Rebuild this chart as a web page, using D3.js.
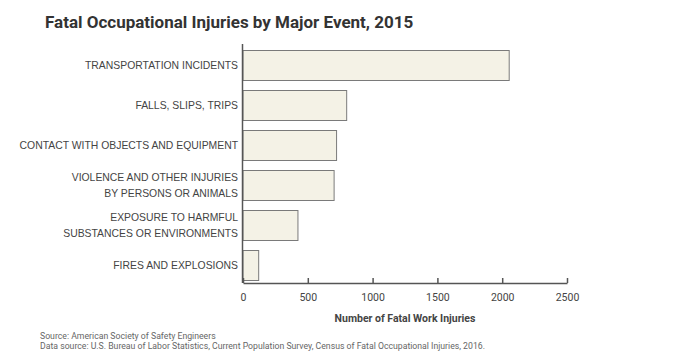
<!DOCTYPE html>
<html>
<head>
<meta charset='utf-8'>
<title>Fatal Occupational Injuries</title>
<script src='https://d3js.org/d3.v7.min.js'></script>
<style>
  body { margin: 0; background: #fff; }
  text { font-family: Roboto, 'Noto Sans', sans-serif; }
</style>
</head>
<body>
<div id='chart'></div>
<script>
// categories (each label split into lines) and values
const categories = [
    ['TRANSPORTATION INCIDENTS'],
    ['FALLS, SLIPS, TRIPS'],
    ['CONTACT WITH OBJECTS AND EQUIPMENT'],
    ['VIOLENCE AND OTHER INJURIES', 'BY PERSONS OR ANIMALS'],
    ['EXPOSURE TO HARMFUL', 'SUBSTANCES OR ENVIRONMENTS'],
    ['FIRES AND EXPLOSIONS']
];
const values = [2054, 800, 722, 703, 424, 121];
const xTicks = [0, 500, 1000, 1500, 2000, 2500];

const W = 700, H = 360;
const svg = d3.select('#chart').append('svg')
    .attr('width', W).attr('height', H);

const x = d3.scaleLinear().domain([0, 2500]).range([243, 567]);
const y = d3.scaleBand().domain(d3.range(categories.length))
    .range([45, 285]).paddingInner(0.25).paddingOuter(0.125);

// title
svg.append('text')
    .attr('x', 45).attr('y', 28)
    .attr('font-size', '17px').attr('font-weight', 'bold')
    .attr('fill', '#333')
    .text('Fatal Occupational Injuries by Major Event, 2015');

// bars
svg.selectAll('rect.bar')
    .data(values)
    .enter()
    .append('rect')
    .attr('class', 'bar')
    .attr('x', x(0))
    .attr('y', (d, i) => y(i) + 0.5)
    .attr('width', d => x(d) - x(0))
    .attr('height', y.bandwidth())
    .attr('fill', '#f4f2e6')
    .attr('stroke', '#7a7a7a')
    .attr('stroke-width', 1);

// category labels
const lab = svg.selectAll('text.cat')
    .data(categories)
    .enter()
    .append('text')
    .attr('class', 'cat')
    .attr('text-anchor', 'end')
    .style('font-family', "'Liberation Sans', Arial, sans-serif")
    .attr('font-size', '10.4px')
    .attr('fill', '#444')
    .attr('y', (d, i) => y(i) + y.bandwidth() / 2);

lab.selectAll('tspan')
    .data(d => d.map((t, j) => ({t: t, j: j, n: d.length})))
    .enter()
    .append('tspan')
    .attr('x', 238)
    .attr('dy', d => d.j === 0 ? (d.n === 1 ? 3.5 : -4) : 16)
    .text(d => d.t);

// y axis line
svg.append('line')
    .attr('x1', x(0) - 0.5).attr('x2', x(0) - 0.5)
    .attr('y1', 44).attr('y2', 283)
    .attr('stroke', '#555').attr('stroke-width', 1.5);

// x axis
const xAxis = d3.axisBottom(x).tickValues(xTicks).tickFormat(d3.format('d'))
    .tickSizeInner(-5).tickSizeOuter(0).tickPadding(11);
const gx = svg.append('g')
    .attr('transform', 'translate(0,283)')
    .call(xAxis);
gx.select('.domain').attr('stroke', '#555').attr('stroke-width', 1.5);
gx.selectAll('.tick line').attr('stroke', '#555').attr('stroke-width', 1.5);
gx.selectAll('.tick text')
    .attr('font-family', 'Roboto, sans-serif')
    .attr('font-size', '10.5px')
    .attr('fill', '#444');

svg.append('text')
    .attr('x', x(1250)).attr('y', 322)
    .attr('text-anchor', 'middle')
    .attr('font-size', '10.5px').attr('font-weight', 'bold')
    .attr('fill', '#444')
    .text('Number of Fatal Work Injuries');

// footer
svg.append('text')
    .attr('x', 40).attr('y', 339)
    .attr('font-size', '8.7px').attr('fill', '#666')
    .text('Source: American Society of Safety Engineers');
svg.append('text')
    .attr('x', 40).attr('y', 349)
    .attr('font-size', '8.7px').attr('fill', '#666')
    .text('Data source: U.S. Bureau of Labor Statistics, Current Population Survey, Census of Fatal Occupational Injuries, 2016.');
</script>
</body>
</html>
